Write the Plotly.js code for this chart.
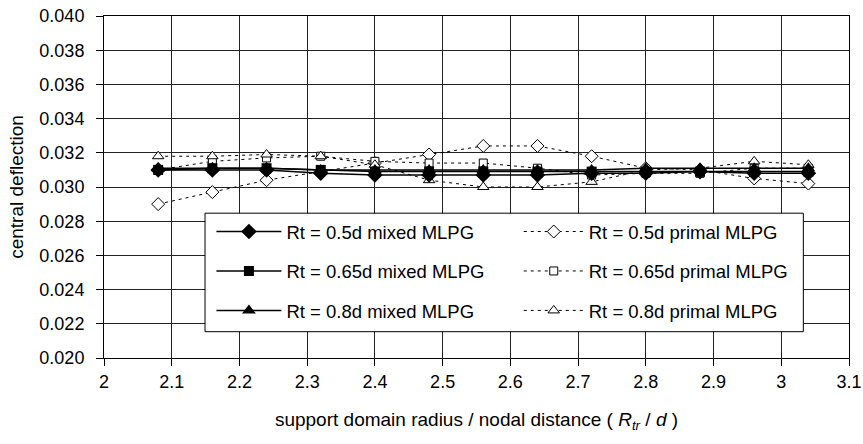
<!DOCTYPE html>
<html>
<head>
<meta charset="utf-8">
<script src="https://cdn.plot.ly/plotly-3.0.1.min.js"></script>
<style>html,body{margin:0;padding:0;background:#fff;}</style>
</head>
<body>
<div id="chart" style="width:863px;height:444px;"></div>
<script>
// Support domain radius / nodal distance
var ratio = [2.08, 2.16, 2.24, 2.32, 2.40, 2.48, 2.56, 2.64, 2.72, 2.80, 2.88, 2.96, 3.04];

// mixed MLPG
var mixed05  = [0.0310, 0.0310, 0.0310, 0.0308, 0.0307, 0.0307, 0.0307, 0.0307, 0.0308, 0.0308, 0.0309, 0.0308, 0.0308];
var mixed065 = [0.0310, 0.0311, 0.0311, 0.0310, 0.0309, 0.0309, 0.0309, 0.0309, 0.0309, 0.0309, 0.0309, 0.0309, 0.0309];
var mixed08  = [0.0311, 0.0311, 0.0311, 0.0310, 0.0310, 0.0310, 0.0310, 0.0310, 0.0310, 0.0311, 0.0311, 0.0311, 0.0311];

// primal MLPG
var primal05  = [0.0290, 0.0297, 0.0304, 0.0309, 0.0314, 0.0319, 0.0324, 0.0324, 0.0318, 0.0311, 0.0310, 0.0305, 0.0302];
var primal065 = [0.0310, 0.0315, 0.0317, 0.0318, 0.0315, 0.0314, 0.0314, 0.0311, 0.0307, 0.0308, 0.0308, 0.0311, 0.0311];
var primal08  = [0.0318, 0.0318, 0.0319, 0.0318, 0.0313, 0.0304, 0.0300, 0.0300, 0.0303, 0.0310, 0.0311, 0.0315, 0.0313];

var names = [
  'Rt = 0.5d mixed MLPG', 'Rt = 0.65d mixed MLPG', 'Rt = 0.8d mixed MLPG',
  'Rt = 0.5d primal MLPG', 'Rt = 0.65d primal MLPG', 'Rt = 0.8d primal MLPG'
];

var yTickVals = [0.020, 0.022, 0.024, 0.026, 0.028, 0.030, 0.032, 0.034, 0.036, 0.038, 0.040];
var xTickVals = [2, 2.1, 2.2, 2.3, 2.4, 2.5, 2.6, 2.7, 2.8, 2.9, 3, 3.1];

function mixedTrace(y, name, sym, size, g) {
  return {
    x: ratio, y: y, name: name, type: 'scatter', mode: 'lines+markers',
    line: {color: '#000', width: 1.5},
    marker: {symbol: sym, size: size, color: '#000', line: {color: '#000', width: 0}},
    legend: 'legend', legendgroup: g
  };
}
function primalTrace(y, name, sym, size, g) {
  return {
    x: ratio, y: y, name: name, type: 'scatter', mode: 'lines+markers',
    line: {color: '#000', width: 1, dash: '3px,4px'},
    marker: {symbol: sym, size: size, color: '#fff', line: {color: '#000', width: 1}},
    legend: 'legend2', legendgroup: g
  };
}

var data = [
  primalTrace(primal05, names[3], 'diamond', 10, 'p1'),
  primalTrace(primal065, names[4], 'square', 8, 'p2'),
  primalTrace(primal08, names[5], 'triangle-up', 10, 'p3'),
  mixedTrace(mixed05, names[0], 'diamond', 12, 'm1'),
  mixedTrace(mixed065, names[1], 'square', 10, 'm2'),
  mixedTrace(mixed08, names[2], 'triangle-up', 12, 'm3')
];

var FONT = 'Liberation Sans, Arial, sans-serif';

var layout = {
  width: 863, height: 444,
  margin: {l: 104, r: 14, t: 16, b: 86},
  paper_bgcolor: '#fff', plot_bgcolor: '#fff',
  font: {family: FONT, size: 18, color: '#000'},
  showlegend: true,
  xaxis: {
    range: [2, 3.1], tickvals: xTickVals, ticktext: xTickVals.map(String),
    showgrid: true, gridcolor: '#222', gridwidth: 1,
    showline: true, linecolor: '#000', linewidth: 1, mirror: true,
    ticks: 'outside', ticklen: 7, tickcolor: '#000',
    zeroline: false,
    tickfont: {family: FONT, size: 18},
    title: {text: 'support domain radius / nodal distance ( <i>R<sub>tr</sub></i> / <i>d</i> )',
            font: {family: FONT, size: 19}, standoff: 22}
  },
  yaxis: {
    range: [0.020, 0.040], tickvals: yTickVals, tickformat: '.3f',
    showgrid: true, gridcolor: '#222', gridwidth: 1,
    showline: true, linecolor: '#000', linewidth: 1, mirror: true,
    ticks: 'outside', ticklen: 7, tickcolor: '#000', ticklabelstandoff: 8,
    zeroline: false,
    tickfont: {family: FONT, size: 18},
    title: {text: 'central deflection', font: {family: FONT, size: 19}, standoff: 10}
  },
  legend: {
    x: 0.1442, y: 0.424, xanchor: 'left', yanchor: 'top',
    bgcolor: 'rgba(0,0,0,0)', borderwidth: 0,
    itemwidth: 65, tracegroupgap: 12.4, traceorder: 'grouped',
    font: {family: FONT, size: 18.5}
  },
  legend2: {
    x: 0.5567, y: 0.424, xanchor: 'left', yanchor: 'top',
    bgcolor: 'rgba(0,0,0,0)', borderwidth: 0,
    itemwidth: 60, tracegroupgap: 12.4, traceorder: 'grouped',
    font: {family: FONT, size: 18.5}
  },
  shapes: [{
    type: 'rect', xref: 'paper', yref: 'paper', layer: 'above',
    x0: 0.1356, x1: 0.9387, y0: 0.0769, y1: 0.4234,
    line: {color: '#000', width: 1}, fillcolor: '#fff'
  }]
};

Plotly.newPlot('chart', data, layout, {displayModeBar: false, staticPlot: true});
</script>
</body>
</html>
